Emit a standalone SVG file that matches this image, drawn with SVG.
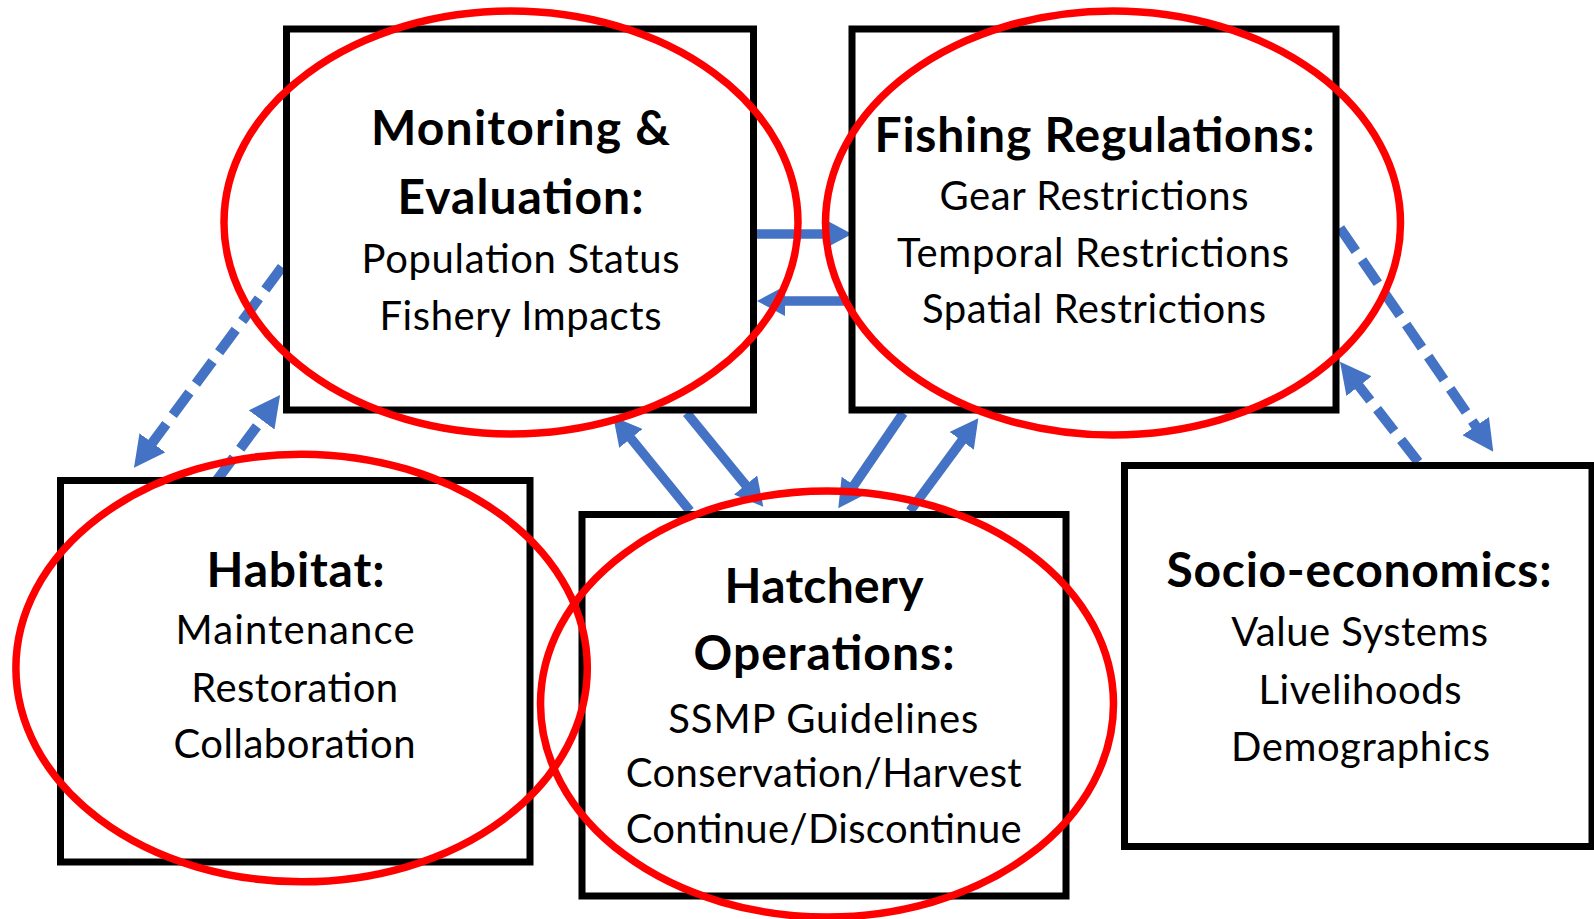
<svg xmlns="http://www.w3.org/2000/svg" width="1594" height="919" viewBox="0 0 1594 919">
<style>
.box{fill:#fff;stroke:#000;stroke-width:7}
.t{font-family:Lato,"Open Sans","Liberation Sans",sans-serif;fill:#000;text-anchor:middle}
.h{font-weight:bold;font-size:48px}
.b{font-size:40px}
.c{fill:none;stroke:#4472C4;stroke-width:9.5}
.d{stroke-width:10;stroke-dasharray:28 11}
.ring{fill:none;stroke:#FF0000;stroke-width:7.5}
</style>
<defs>
<marker id="ah" markerUnits="userSpaceOnUse" viewBox="0 0 28 30" markerWidth="28" markerHeight="30" refX="4" refY="15" orient="auto">
<path d="M0,0 L28,15 L0,30 z" fill="#4472C4"/>
</marker>
<marker id="ahd" markerUnits="userSpaceOnUse" viewBox="0 0 31 32" markerWidth="31" markerHeight="32" refX="4" refY="16" orient="auto">
<path d="M0,0 L31,16 L0,32 z" fill="#4472C4"/>
</marker>
</defs>
<rect width="1594" height="919" fill="#fff"/>
<g id="connectors">
<path class="c" d="M757,234 H828" marker-end="url(#ah)"/>
<path class="c" d="M848,301 H781" marker-end="url(#ah)"/>
<path class="c d" d="M282,267 L150,446" marker-end="url(#ahd)"/>
<path class="c d" d="M217,480 L264,416.7" marker-end="url(#ahd)"/>
<path class="c" d="M686.7,413 L748.1,488.1" marker-end="url(#ah)"/>
<path class="c" d="M690,511 L628.4,435.3" marker-end="url(#ah)"/>
<path class="c" d="M903.3,413 L851.8,488.5" marker-end="url(#ah)"/>
<path class="c" d="M910,511 L964.1,437.6" marker-end="url(#ah)"/>
<path class="c d" d="M1340,228 L1478,429.4" marker-end="url(#ahd)"/>
<path class="c d" d="M1418.3,462 L1356.6,383" marker-end="url(#ahd)"/>
</g>
<g id="monitoring">
<rect class="box" x="286.5" y="29" width="467" height="381"/>
<text class="t h" x="520.5" y="145" textLength="299">Monitoring &amp;</text>
<text class="t h" x="520.5" y="214" textLength="246">Evaluation:</text>
<text class="t b" x="520.5" y="273" textLength="318">Population Status</text>
<text class="t b" x="520.5" y="330" textLength="282">Fishery Impacts</text>
</g>
<g id="fishing">
<rect class="box" x="852" y="29" width="484" height="381"/>
<text class="t h" x="1094.5" y="151.7" textLength="440">Fishing Regulations:</text>
<text class="t b" x="1094" y="210" textLength="309">Gear Restrictions</text>
<text class="t b" x="1093" y="266.7" textLength="392">Temporal Restrictions</text>
<text class="t b" x="1094" y="323.3" textLength="344">Spatial Restrictions</text>
</g>
<g id="habitat">
<rect class="box" x="60.5" y="480.5" width="469.5" height="381.5"/>
<text class="t h" x="295.5" y="586.7" textLength="178">Habitat:</text>
<text class="t b" x="295" y="644.3" textLength="239">Maintenance</text>
<text class="t b" x="294.7" y="701.7" textLength="207">Restoration</text>
<text class="t b" x="294.5" y="757.7" textLength="242">Collaboration</text>
</g>
<g id="hatchery">
<rect class="box" x="582" y="514.5" width="484" height="381.5"/>
<text class="t h" x="824" y="603.3" textLength="199">Hatchery</text>
<text class="t h" x="824" y="670" textLength="261">Operations:</text>
<text class="t b" x="823.3" y="733.3" textLength="310">SSMP Guidelines</text>
<text class="t b" x="823.7" y="786.7" textLength="396">Conservation/Harvest</text>
<text class="t b" x="823.7" y="842.7" textLength="396">Continue/Discontinue</text>
</g>
<g id="socio">
<rect class="box" x="1124.5" y="465.5" width="467.5" height="381"/>
<text class="t h" x="1359" y="586.7" textLength="385">Socio-economics:</text>
<text class="t b" x="1359.7" y="646" textLength="257">Value Systems</text>
<text class="t b" x="1360" y="704" textLength="203">Livelihoods</text>
<text class="t b" x="1360.5" y="761" textLength="259">Demographics</text>
</g>
<g id="highlights">
<ellipse class="ring" cx="511" cy="222.5" rx="287" ry="211.5"/>
<ellipse class="ring" cx="1113" cy="223" rx="287.5" ry="212"/>
<ellipse class="ring" cx="301.6" cy="668" rx="285.7" ry="213.8"/>
<ellipse class="ring" cx="827" cy="704" rx="286.5" ry="213"/>
</g>
</svg>
